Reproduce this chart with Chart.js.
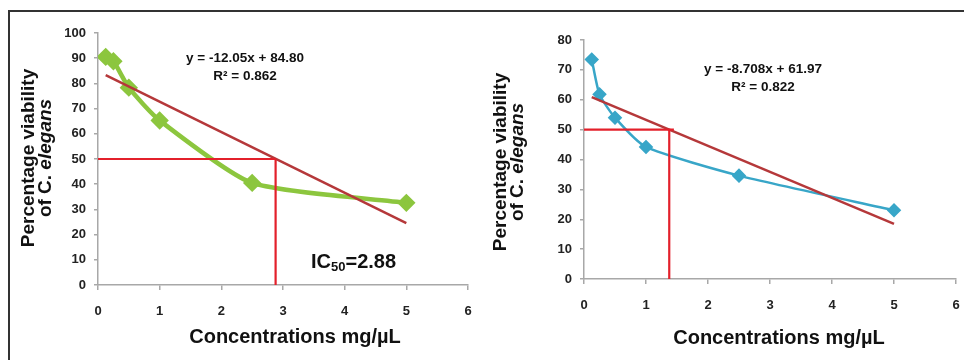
<!DOCTYPE html>
<html>
<head>
<meta charset="utf-8">
<script src="https://cdn.jsdelivr.net/npm/chart.js@4.4.1/dist/chart.umd.min.js"></script>
<style>
    body { margin: 0; background: #fff; width: 964px; height: 360px; overflow: hidden; position: relative; }
    .frame { position: absolute; left: 8px; top: 10px; right: 0; bottom: 0; border-top: 2px solid #333; border-left: 2px solid #333; }
    .panel { position: absolute; top: 0; width: 480px; height: 360px; }
</style>
</head>
<body>
<div class="frame"></div>
<div class="panel" style="left:0"><canvas id="leftChart" width="480" height="360"></canvas></div>
<div class="panel" style="left:484px"><canvas id="rightChart" width="480" height="360"></canvas></div>
<script>
// left panel data
const leftConc = [0.125, 0.25, 0.5, 1, 2.5, 5];
const leftViability = [90.5, 88.8, 78.3, 65.3, 40.5, 32.6];
const leftSlope = -12.05;
const leftIntercept = 84.80;
const leftR2 = '0.862';
const leftIC50 = 2.88;
const leftYTicks = [0, 10, 20, 30, 40, 50, 60, 70, 80, 90, 100];

// right panel data
const rightConc = [0.125, 0.25, 0.5, 1, 2.5, 5];
const rightViability = [73.5, 61.8, 54.0, 44.2, 34.6, 23.0];
const rightSlope = -8.708;
const rightIntercept = 61.97;
const rightR2 = '0.822';
const rightIC50 = 1.375;
const rightIC50LineEnd = 1.45;
const rightYTicks = [0, 10, 20, 30, 40, 50, 60, 70, 80];

const xTicks = [0, 1, 2, 3, 4, 5, 6];

const FONT = "'Liberation Sans', Arial, sans-serif";

function trendPoints(xs, slope, intercept) {
    const x0 = xs[0], x1 = xs[xs.length - 1];
    return [{ x: x0, y: slope * x0 + intercept }, { x: x1, y: slope * x1 + intercept }];
}

// draws equation, axis titles and optional IC50 label
function textPlugin(opts) {
    return {
        id: 'texts',
        afterDraw(chart) {
            const ctx = chart.ctx;
            ctx.save();
            ctx.fillStyle = '#111';
            ctx.textAlign = 'center';
            ctx.textBaseline = 'middle';

            ctx.font = 'bold 13.5px ' + FONT;
            ctx.fillText(opts.equation, opts.eqX, opts.eqY);
            ctx.fillText(opts.r2, opts.eqX, opts.eqY + 18);

            ctx.font = 'bold 20px ' + FONT;
            ctx.fillText('Concentrations mg/\u00b5L', opts.xtX, opts.xtY);

            // rotated y title, second line has italic species name
            ctx.translate(opts.ytX, opts.ytY);
            ctx.rotate(-Math.PI / 2);
            ctx.font = 'bold 19px ' + FONT;
            ctx.fillText('Percentage viability', 0, 0);
            const a = 'of C. ';
            const b = 'elegans';
            const wa = ctx.measureText(a).width;
            ctx.font = 'italic bold 19px ' + FONT;
            const wb = ctx.measureText(b).width;
            const start = -(wa + wb) / 2;
            ctx.textAlign = 'left';
            ctx.font = 'bold 19px ' + FONT;
            ctx.fillText(a, start, 17);
            ctx.font = 'italic bold 19px ' + FONT;
            ctx.fillText(b, start + wa, 17);
            ctx.setTransform(1, 0, 0, 1, 0, 0);

            if (opts.ic50Label) {
                ctx.textAlign = 'left';
                ctx.textBaseline = 'alphabetic';
                let x = opts.icX;
                ctx.font = 'bold 20px ' + FONT;
                ctx.fillText('IC', x, opts.icY);
                x += ctx.measureText('IC').width;
                ctx.font = 'bold 13px ' + FONT;
                ctx.fillText('50', x, opts.icY + 3);
                x += ctx.measureText('50').width;
                ctx.font = 'bold 20px ' + FONT;
                ctx.fillText('=' + opts.ic50Label, x, opts.icY);
            }
            ctx.restore();
        }
    };
}

function createPanel(canvasId, cfg) {
    const ctx = document.getElementById(canvasId).getContext('2d');
    return new Chart(ctx, {
        type: 'line',
        data: {
            datasets: [
                {
                    label: 'IC50 horizontal',
                    data: [{ x: 0, y: 50 }, { x: cfg.hEnd, y: 50 }],
                    borderColor: '#e3202b',
                    borderWidth: 2.2,
                    pointRadius: 0,
                    order: 1
                },
                {
                    label: 'IC50 vertical',
                    data: [{ x: cfg.ic50, y: 50 }, { x: cfg.ic50, y: 0 }],
                    borderColor: '#e3202b',
                    borderWidth: 2.2,
                    pointRadius: 0,
                    order: 1
                },
                {
                    label: 'Linear trend',
                    data: trendPoints(cfg.conc, cfg.slope, cfg.intercept),
                    borderColor: '#b5383a',
                    borderWidth: 2.5,
                    pointRadius: 0,
                    order: 2
                },
                {
                    label: 'Viability',
                    data: cfg.conc.map((c, i) => ({ x: c, y: cfg.values[i] })),
                    borderColor: cfg.color,
                    backgroundColor: cfg.color,
                    borderWidth: cfg.lineWidth,
                    pointStyle: 'rectRot',
                    pointRadius: cfg.pointRadius,
                    tension: 0.2,
                    order: 3
                }
            ]
        },
        options: {
            responsive: false,
            animation: false,
            layout: { padding: { left: 0, top: cfg.padTop, right: cfg.padRight, bottom: 0 } },
            plugins: { legend: { display: false }, tooltip: { enabled: false } },
            scales: {
                x: {
                    type: 'linear',
                    min: 0,
                    max: 6,
                    afterBuildTicks: s => { s.ticks = xTicks.map(v => ({ value: v })); },
                    afterFit: s => { s.height = cfg.xHeight; s.paddingLeft = 0; s.paddingRight = 0; },
                    border: { color: '#a8a8a8', width: 1.5 },
                    grid: { drawOnChartArea: false, tickLength: 5, color: '#a8a8a8', lineWidth: 1.5 },
                    ticks: { color: '#222', padding: 14, font: { family: FONT, size: 13, weight: 'bold' } }
                },
                y: {
                    type: 'linear',
                    min: 0,
                    max: cfg.yTicks[cfg.yTicks.length - 1],
                    afterBuildTicks: s => { s.ticks = cfg.yTicks.map(v => ({ value: v })); },
                    afterFit: s => { s.width = cfg.yWidth; s.paddingTop = 0; s.paddingBottom = 0; },
                    border: { color: '#a8a8a8', width: 1.5 },
                    grid: { drawOnChartArea: false, tickLength: 4, color: '#a8a8a8', lineWidth: 1.5 },
                    ticks: { color: '#222', padding: 8, font: { family: FONT, size: 13, weight: 'bold' } }
                }
            }
        },
        plugins: [textPlugin(cfg.text)]
    });
}

document.addEventListener('DOMContentLoaded', function () {
    createPanel('leftChart', {
        conc: leftConc, values: leftViability, slope: leftSlope, intercept: leftIntercept,
        ic50: leftIC50, hEnd: leftIC50, yTicks: leftYTicks,
        color: '#8cc63e', lineWidth: 4.5, pointRadius: 6,
        padTop: 33, padRight: 12, xHeight: 75, yWidth: 98,
        text: {
            equation: 'y = -12.05x + 84.80', r2: 'R\u00b2 = ' + leftR2, eqX: 245, eqY: 58,
            xtX: 295, xtY: 337, ytX: 29, ytY: 158,
            ic50Label: leftIC50.toFixed(2), icX: 311, icY: 268
        }
    });

    createPanel('rightChart', {
        conc: rightConc, values: rightViability, slope: rightSlope, intercept: rightIntercept,
        ic50: rightIC50, hEnd: rightIC50LineEnd, yTicks: rightYTicks,
        color: '#38a6c8', lineWidth: 2.5, pointRadius: 5.5,
        padTop: 40, padRight: 8, xHeight: 81, yWidth: 100,
        text: {
            equation: 'y = -8.708x + 61.97', r2: 'R\u00b2 = ' + rightR2, eqX: 279, eqY: 69,
            xtX: 295, xtY: 338, ytX: 17, ytY: 162,
            ic50Label: null
        }
    });
});
</script>
</body>
</html>
